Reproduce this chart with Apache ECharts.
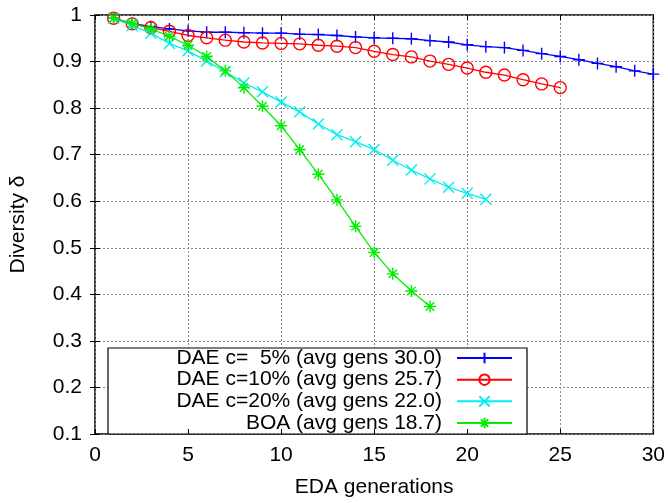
<!DOCTYPE html>
<html>
<head>
<meta charset="utf-8">
<script src="https://cdn.jsdelivr.net/npm/echarts@6/dist/echarts.min.js"></script>
<style>html,body{margin:0;padding:0;background:#fff}#c{width:668px;height:503px}</style>
</head>
<body>
<div id="c"></div>
<script>
const generations = [1,2,3,4,5,6,7,8,9,10,11,12,13,14,15,16,17,18,19,20,21,22,23,24,25,26,27,28,29,30];
const dae5 = [0.993,0.982,0.975,0.970,0.966,0.963,0.963,0.962,0.961,0.961,0.959,0.958,0.956,0.953,0.951,0.950,0.949,0.945,0.942,0.936,0.932,0.930,0.924,0.917,0.911,0.904,0.896,0.889,0.880,0.873];
const dae10 = [0.993,0.981,0.973,0.965,0.956,0.951,0.946,0.942,0.940,0.939,0.938,0.935,0.933,0.930,0.922,0.915,0.910,0.901,0.894,0.886,0.877,0.871,0.861,0.852,0.844];
const dae20 = [0.993,0.977,0.961,0.939,0.923,0.901,0.878,0.854,0.835,0.813,0.792,0.766,0.743,0.728,0.711,0.688,0.667,0.648,0.630,0.617,0.604];
const boa = [0.993,0.982,0.970,0.954,0.935,0.911,0.880,0.844,0.804,0.762,0.711,0.658,0.603,0.546,0.490,0.444,0.407,0.374];
const seriesNames = ['DAE c=  5% (avg gens 30.0)','DAE c=10% (avg gens 25.7)','DAE c=20% (avg gens 22.0)','BOA (avg gens 18.7)'];
const xTicks = [0,5,10,15,20,25,30];
const yTicks = [0.1,0.2,0.3,0.4,0.5,0.6,0.7,0.8,0.9,1];

const FONT = 'Liberation Sans';
const colors = ['#0000ff','#ff0000','#00eeee','#00ee00'];
const symbols = [
  'path://M0,5L10,5M5,0L5,10',
  'circle',
  'path://M0,0L10,10M10,0L0,10',
  'path://M0,5L10,5M5,0L5,10M1.5,1.5L8.5,8.5M8.5,1.5L1.5,8.5'
];
const symSizes = [12, 12, 11, 12];
const allData = [dae5, dae10, dae20, boa];

const chart = echarts.init(document.getElementById('c'), null, {renderer:'canvas'});

const series = allData.map((arr, k) => ({
  name: seriesNames[k],
  type: 'line',
  xAxisIndex: 1,
  yAxisIndex: 1,
  data: arr.map((v, i) => [generations[i], v]),
  symbol: symbols[k],
  symbolSize: symSizes[k],
  showAllSymbol: true,
  animation: false,
  color: colors[k],
  lineStyle: {color: colors[k], width: 1.3},
  itemStyle: {color: 'rgba(0,0,0,0)', borderColor: colors[k], borderWidth: 1.4},
  z: 3 + k
}));

const rowTops = [347, 368.7, 390.3, 412];
const legends = seriesNames.map((n, k) => ({
  data: [n],
  orient: 'vertical',
  align: 'right',
  right: 155,
  top: rowTops[k],
  padding: 0,
  itemWidth: 55,
  itemHeight: 13,
  selectedMode: false,
  z: 20,
  textStyle: {fontFamily: FONT, fontSize: 21, color: '#000', lineHeight: 22, padding: [0, 10, 0, 0]}
}));

const labelFmt = v => String(Number(v.toFixed(1)));

chart.setOption({
  backgroundColor: '#fff',
  animation: false,
  grid: {left: 95, right: 12, top: 15, bottom: 66, show: true, borderColor: '#000', borderWidth: 1.5, backgroundColor: 'transparent', z: 0},
  legend: legends,
  graphic: [{
    type: 'rect', z: 8,
    shape: {x: 108, y: 348, width: 419, height: 86},
    style: {fill: '#fff', stroke: '#000', lineWidth: 1.2}
  }],
  xAxis: [
    {type: 'value', position: 'bottom', min: xTicks[0], max: xTicks[xTicks.length-1], interval: 5, z: 1,
     axisLine: {show: false}, axisTick: {show: false}, axisLabel: {show: false},
     splitLine: {show: true, lineStyle: {color: '#888', width: 1, type: [2, 2]}}},
    {type: 'value', position: 'bottom', min: xTicks[0], max: xTicks[xTicks.length-1], interval: 5, z: 10,
     name: 'EDA generations', nameLocation: 'middle', nameGap: 43,
     nameTextStyle: {fontFamily: FONT, fontSize: 21, color: '#000'},
     axisLine: {show: false}, axisTick: {show: true, inside: true, length: 5, lineStyle: {color: '#000'}},
     axisLabel: {fontFamily: FONT, fontSize: 21, color: '#000', margin: 11},
     splitLine: {show: false}},
    {type: 'value', position: 'top', min: xTicks[0], max: xTicks[xTicks.length-1], interval: 5, z: 10,
     axisLine: {show: false}, axisTick: {show: true, inside: true, length: 5, lineStyle: {color: '#000'}},
     axisLabel: {show: false}, splitLine: {show: false}}
  ],
  yAxis: [
    {type: 'value', position: 'left', min: yTicks[0], max: yTicks[yTicks.length-1], interval: 0.1, z: 1,
     axisLine: {show: false}, axisTick: {show: false}, axisLabel: {show: false},
     splitLine: {show: true, lineStyle: {color: '#888', width: 1, type: [2, 2]}}},
    {type: 'value', position: 'left', min: yTicks[0], max: yTicks[yTicks.length-1], interval: 0.1, z: 10,
     name: 'Diversity δ', nameLocation: 'middle', nameGap: 66, nameRotate: 90,
     nameTextStyle: {fontFamily: FONT, fontSize: 21, color: '#000'},
     axisLine: {show: false}, axisTick: {show: true, inside: true, length: 5, lineStyle: {color: '#000'}},
     axisLabel: {fontFamily: FONT, fontSize: 21, color: '#000', margin: 13, formatter: labelFmt},
     splitLine: {show: false}},
    {type: 'value', position: 'right', min: yTicks[0], max: yTicks[yTicks.length-1], interval: 0.1, z: 10,
     axisLine: {show: false}, axisTick: {show: true, inside: true, length: 5, lineStyle: {color: '#000'}},
     axisLabel: {show: false}, splitLine: {show: false}}
  ],
  series: series
});
</script>
</body>
</html>
